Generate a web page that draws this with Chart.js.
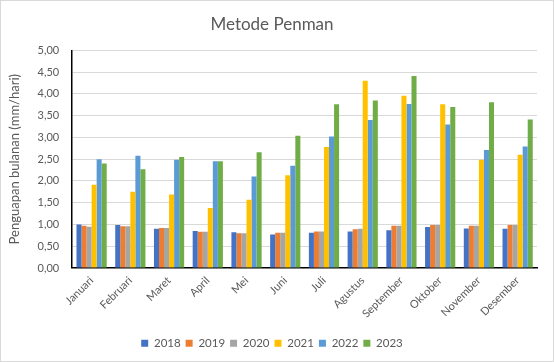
<!DOCTYPE html>
<html>
<head>
<meta charset="utf-8">
<script src="https://cdn.jsdelivr.net/npm/chart.js@4"></script>
<style>
  body { margin: 0; background: #fff; }
  #wrap { width: 554px; height: 362px; box-sizing: border-box; border: 1px solid #d9d9d9; position: relative; }
</style>
</head>
<body>
<div id="wrap"><canvas id="myChart"></canvas></div>
<script>
const months = ["Januari", "Februari", "Maret", "April", "Mei", "Juni", "Juli", "Agustus", "September", "Oktober", "November", "Desember"];
const y2018 = [1.00, 0.99, 0.90, 0.85, 0.82, 0.77, 0.81, 0.84, 0.87, 0.94, 0.91, 0.90];
const y2019 = [0.97, 0.96, 0.92, 0.83, 0.80, 0.81, 0.84, 0.89, 0.97, 0.99, 0.97, 0.99];
const y2020 = [0.95, 0.96, 0.92, 0.83, 0.80, 0.81, 0.84, 0.90, 0.97, 0.99, 0.97, 0.99];
const y2021 = [1.91, 1.75, 1.69, 1.38, 1.57, 2.13, 2.78, 4.30, 3.96, 3.76, 2.49, 2.60];
const y2022 = [2.50, 2.58, 2.49, 2.45, 2.10, 2.35, 3.02, 3.40, 3.77, 3.30, 2.71, 2.79];
const y2023 = [2.40, 2.27, 2.55, 2.45, 2.66, 3.04, 3.76, 3.85, 4.41, 3.70, 3.81, 3.41];
const yearLabels = ["2018", "2019", "2020", "2021", "2022", "2023"];
const colors = ["#4472C4", "#ED7D31", "#A5A5A5", "#FFC000", "#5B9BD5", "#70AD47"];

const series = [y2018, y2019, y2020, y2021, y2022, y2023];
const datasets = series.map((data, i) => ({
  label: yearLabels[i],
  data,
  backgroundColor: colors[i],
  borderWidth: 0,
  categoryPercentage: 0.78,
  barPercentage: 1.0,
}));

const textColor = "#595959";
const fontFam = "Lato, 'Open Sans', sans-serif";

new Chart(document.getElementById("myChart"), {
  type: "bar",
  data: { labels: months, datasets },
  options: {
    responsive: true,
    maintainAspectRatio: false,
    animation: false,
    layout: { padding: { left: 6, right: 16, top: 4, bottom: 2 } },
    plugins: {
      title: {
        display: true,
        text: "Metode Penman",
        color: textColor,
        font: { family: fontFam, size: 17, weight: "normal" },
        padding: { top: 9, bottom: 16 },
      },
      legend: {
        position: "bottom",
        labels: {
          color: textColor,
          font: { family: fontFam, size: 11.5 },
          boxWidth: 7,
          boxHeight: 7,
          padding: 5,
        },
      },
      tooltip: { enabled: false },
    },
    scales: {
      x: {
        grid: { display: false, drawTicks: false },
        border: { color: "#000", width: 1.5 },
        ticks: {
          color: textColor,
          font: { family: fontFam, size: 11 },
          minRotation: 45,
          maxRotation: 45,
          padding: 6,
        },
        afterFit: (scale) => { scale.height += 6; },
      },
      y: {
        min: 0,
        max: 5,
        grid: { color: "#d9d9d9", lineWidth: 1, drawTicks: false },
        border: { color: "#000", width: 1.5 },
        ticks: {
          stepSize: 0.5,
          color: textColor,
          font: { family: fontFam, size: 11 },
          padding: 13,
          callback: (v) => v.toFixed(2).replace(".", ","),
        },
        title: {
          display: true,
          text: "Penguapan bulanan (mm/hari)",
          color: textColor,
          font: { family: fontFam, size: 13 },
          padding: { top: 0, bottom: 2 },
        },
      },
    },
  },
});
</script>
</body>
</html>
